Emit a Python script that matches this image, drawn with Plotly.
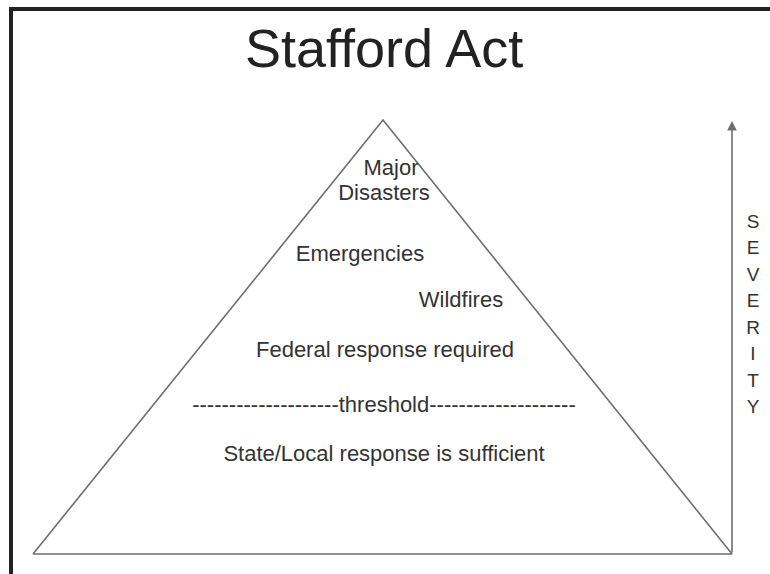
import plotly.graph_objects as go

# Diagram data (pixel-space coordinates of the pyramid and its labels)
tri_x = [33, 383, 732, 33]
tri_y = [554, 120, 554, 554]

label_text = ["Major", "Disasters", "Emergencies", "Wildfires",
              "Federal response required",
              "--------------------threshold--------------------",
              "State/Local response is sufficient"]
label_x = [391, 384, 360, 461, 385, 384, 384]
label_y = [169, 194, 255, 301, 351, 406, 455]

axis_letters = list("SEVERITY")
axis_x = 753
axis_y = [223, 249, 276, 302, 329, 355, 382, 408]

arrow_x = 732
arrow_y0, arrow_y1 = 554, 121

title_text = "Stafford Act"

FONT = "Liberation Sans, Arial, sans-serif"

fig = go.Figure()
fig.add_trace(go.Scatter(x=tri_x, y=tri_y, mode="lines",
                         line=dict(color="#6e6e6e", width=1.6),
                         hoverinfo="skip", showlegend=False))
fig.add_trace(go.Scatter(x=label_x, y=label_y, mode="text", text=label_text,
                         textfont=dict(family=FONT, size=22, color="#333333"),
                         textposition="middle center", hoverinfo="skip", showlegend=False,
                         cliponaxis=False))
fig.add_trace(go.Scatter(x=[axis_x] * len(axis_letters), y=axis_y, mode="text", text=axis_letters,
                         textfont=dict(family=FONT, size=19, color="#333333"),
                         textposition="middle center", hoverinfo="skip", showlegend=False,
                         cliponaxis=False))

fig.add_annotation(x=arrow_x, y=arrow_y1, ax=arrow_x, ay=arrow_y0,
                   xref="x", yref="y", axref="x", ayref="y",
                   showarrow=True, arrowhead=2, arrowsize=1.2, arrowwidth=1.6,
                   arrowcolor="#6e6e6e", text="")

fig.add_annotation(x=384, y=48, xref="x", yref="y", text=title_text, showarrow=False,
                   font=dict(family=FONT, size=54, color="#222222"))

# Border lines (top and left)
fig.add_shape(type="line", xref="x", yref="y", x0=9, x1=770, y0=9, y1=9,
              line=dict(color="#222222", width=4))
fig.add_shape(type="line", xref="x", yref="y", x0=11, x1=11, y0=7, y1=574,
              line=dict(color="#222222", width=4))

fig.update_layout(width=770, height=574, margin=dict(l=0, r=0, t=0, b=0),
                  paper_bgcolor="white", plot_bgcolor="white",
                  xaxis=dict(range=[0, 770], visible=False, fixedrange=True),
                  yaxis=dict(range=[574, 0], visible=False, fixedrange=True))

fig.write_html("out.html", config={"displayModeBar": False, "staticPlot": True})

# remove default page margin so the figure sits at the window origin
with open("out.html", "r", encoding="utf-8") as f:
    html = f.read()
html = html.replace("<head>", "<head><style>html,body{margin:0;padding:0;overflow:hidden;}</style>", 1)
with open("out.html", "w", encoding="utf-8") as f:
    f.write(html)
